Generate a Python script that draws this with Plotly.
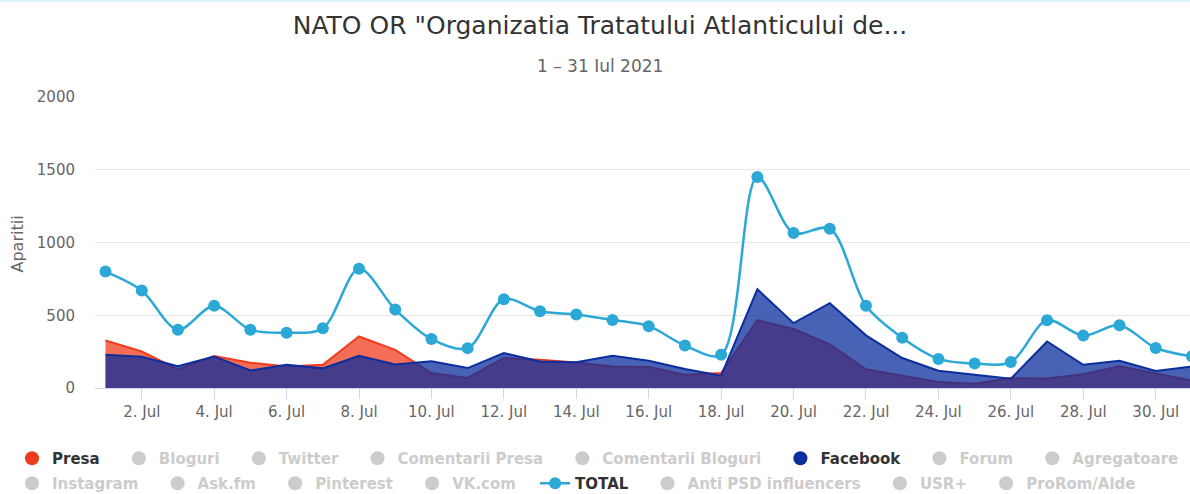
import plotly.graph_objects as go

# ---------------- data ----------------
days = list(range(1, 32))
total = [800, 670, 400, 565, 400, 380, 410, 820, 540, 336, 274, 610, 528, 505, 468,
         425, 292, 228, 1450, 1066, 1095, 565, 345, 200, 168, 178, 465, 360, 432, 275, 218]
facebook = [228, 215, 150, 217, 120, 160, 135, 222, 162, 183, 137, 240, 182, 177, 222,
            187, 130, 85, 679, 446, 583, 362, 206, 119, 91, 64, 320, 160, 187, 117, 148]
presa = [326, 251, 128, 220, 174, 148, 160, 354, 262, 103, 69, 206, 194, 176, 148,
         144, 91, 103, 466, 405, 300, 129, 84, 41, 29, 68, 66, 95, 150, 100, 50]

tick_days = list(range(2, 31, 2))
tick_labels = [f"{d}. Jul" for d in tick_days]
y_ticks = [0, 500, 1000, 1500, 2000]

row1 = ["Presa", "Bloguri", "Twitter", "Comentarii Presa", "Comentarii Bloguri",
        "Facebook", "Forum", "Agregatoare"]
row2 = ["Instagram", "Ask.fm", "Pinterest", "VK.com", "TOTAL",
        "Anti PSD influencers", "USR+", "ProRom/Alde"]
active_colors = {"Presa": "#f03c1e", "Facebook": "#0b2e9e", "TOTAL": "#2ba8d6"}

title_text = 'NATO OR "Organizatia Tratatului Atlanticului de...'
subtitle_text = "1 \u2013 31 Iul 2021"
y_title = "Aparitii"

FONT = "DejaVu Sans"
GREY = "#cccccc"
PAD = "\u00a0\u00a0\u2005"

fig = go.Figure()

# area series (non-stacked, overlapping)
fig.add_trace(go.Scatter(
    x=days, y=presa, mode="lines", fill="tozeroy",
    line=dict(color=active_colors["Presa"], width=2),
    fillcolor="rgba(240,60,30,0.75)", showlegend=False, hoverinfo="skip"))
fig.add_trace(go.Scatter(
    x=days, y=facebook, mode="lines", fill="tozeroy",
    line=dict(color=active_colors["Facebook"], width=2),
    fillcolor="rgba(11,46,158,0.75)", showlegend=False, hoverinfo="skip"))

# legend entries
def add_legend_entry(name, legend_id, last):
    label = name if last else name + PAD
    if name == "TOTAL":
        fig.add_trace(go.Scatter(
            x=days, y=total, mode="lines+markers", name=label,
            line=dict(color=active_colors["TOTAL"], width=2.5, shape="spline", smoothing=0.9),
            marker=dict(color=active_colors["TOTAL"], size=12),
            legend=legend_id))
    elif name in active_colors:
        fig.add_trace(go.Scatter(
            x=[None], y=[None], mode="markers", name=label,
            marker=dict(color=active_colors[name], size=14),
            legend=legend_id))
    else:
        fig.add_trace(go.Scatter(
            x=[None], y=[None], mode="markers",
            name=f"<span style='color:{GREY}'>{label}</span>",
            marker=dict(color=GREY, size=14),
            legend=legend_id))

for i, n in enumerate(row1):
    add_legend_entry(n, "legend", i == len(row1) - 1)
for i, n in enumerate(row2):
    add_legend_entry(n, "legend2", i == len(row2) - 1)

PLOT_LEFT = 95
PLOT_W = 1095
PLOT_TOP = 96.7
PLOT_BOTTOM = 388.3
W = 1190
H = 494
plot_h = PLOT_BOTTOM - PLOT_TOP

def py(pix):
    return (PLOT_BOTTOM - pix) / plot_h

def px(pix):
    return (pix - PLOT_LEFT) / PLOT_W

legend_common = dict(
    orientation="h", xanchor="left", x=px(12), yanchor="middle",
    font=dict(family=FONT, size=15, color="#333333", weight="bold"),
    bgcolor="rgba(0,0,0,0)", itemclick=False, itemdoubleclick=False,
    xref="paper", yref="paper",
)

fig.update_layout(
    width=W, height=H,
    margin=dict(l=95, r=0, t=97, b=106, pad=0, autoexpand=False),
    paper_bgcolor="white", plot_bgcolor="white",
    font=dict(family=FONT, color="#666666"),
    title=dict(text=title_text, x=600 / W, xref="container", xanchor="center",
               y=1 - 25 / H, yref="container", yanchor="middle",
               font=dict(family=FONT, size=25, color="#333333")),
    xaxis=dict(range=[0.71, 30.947], tickvals=tick_days, ticktext=tick_labels,
               showgrid=False, zeroline=False, showline=True, linecolor="#ccd6eb",
               linewidth=1, ticks="outside", ticklen=10, tickcolor="#ccd6eb",
               tickfont=dict(family=FONT, size=15, color="#666666"), fixedrange=True),
    yaxis=dict(range=[0, 2000], tickvals=y_ticks, showgrid=True, gridcolor="#e6e6e6",
               zeroline=False, showline=False, ticks="", ticklabelstandoff=19,
               tickfont=dict(family=FONT, size=15, color="#666666"), fixedrange=True),
    legend=dict(**legend_common, y=py(459)),
    legend2=dict(**legend_common, y=py(484)),
    showlegend=True,
    annotations=[
        dict(text=subtitle_text, xref="paper", yref="paper",
             x=px(600), y=py(66), xanchor="center", yanchor="middle", showarrow=False,
             font=dict(family=FONT, size=17, color="#666666")),
        dict(text=y_title, xref="paper", yref="paper", x=px(17.5), y=py(244),
             xanchor="center", yanchor="middle", textangle=-90, showarrow=False,
             font=dict(family=FONT, size=16, color="#666666")),
    ],
    shapes=[dict(type="line", xref="paper", yref="paper", x0=px(0), x1=1.0,
                 y0=py(0.5), y1=py(0.5), line=dict(color="#dff3fa", width=2))],
)

fig.write_html("out.html", config={"displayModeBar": False},
               post_script="document.body.style.margin='0px';")
